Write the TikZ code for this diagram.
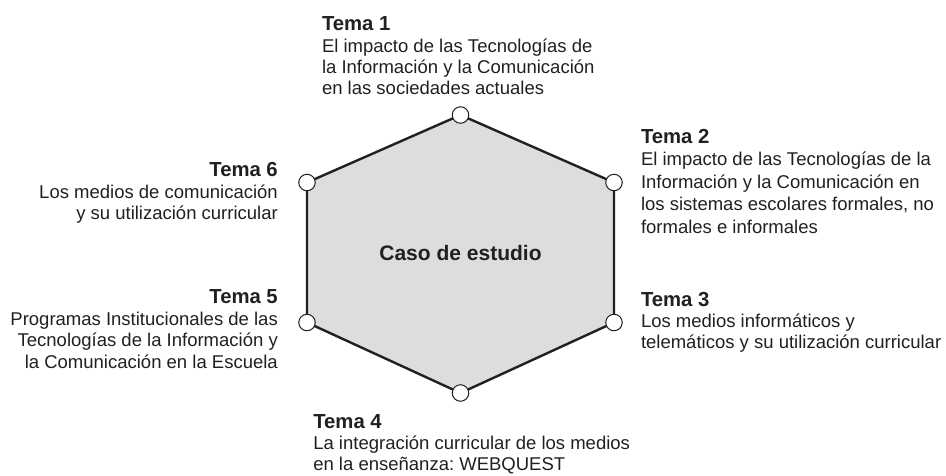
\documentclass[tikz,border=0pt]{standalone}
\usepackage{fontspec}
\setmainfont{Liberation Sans}
\frenchspacing
\definecolor{ink}{HTML}{231F20}
\definecolor{hexfill}{HTML}{DCDDDE}
\newcommand{\hd}[1]{{\fontsize{20.3}{21.7}\selectfont\bfseries #1}}
\newcommand{\Lline}[1]{\hbox{#1}}
\newcommand{\Rline}[1]{\hbox to 0pt{\hss #1}}
\tikzset{
  blk/.style={inner sep=0pt, outer sep=0pt, text=ink,
    font=\fontsize{18.5}{21.7}\selectfont\frenchspacing},
  lblk/.style={blk, anchor=base west},
  rblk/.style={blk, anchor=base east},
  vtx/.style={circle, draw=ink, fill=white, line width=1pt,
    minimum size=16.5pt, inner sep=0pt},
  hexline/.style={draw=ink, fill=hexfill, line width=2.4pt, line join=round},
  centertext/.style={inner sep=0pt, text=ink, anchor=base,
    font=\fontsize{21}{24}\selectfont\bfseries}
}
\begin{document}
\begin{tikzpicture}[x=1pt,y=-1pt]
\useasboundingbox (0,0) rectangle (946,475);
% hexagon vertices
\coordinate (p1) at (460.5,115);
\coordinate (p2) at (614,182.5);
\coordinate (p3) at (614,322.5);
\coordinate (p4) at (460.5,393);
\coordinate (p5) at (307,322.5);
\coordinate (p6) at (307,182.5);
\draw[hexline] (p1) -- (p2) -- (p3) -- (p4) -- (p5) -- (p6) -- cycle;
\foreach \i in {1,...,6} { \node[vtx] (v\i) at (p\i) {}; }
\node[centertext] (caso) at (460.5,260) {Caso de estudio};
% Tema 1
\node[lblk] (t1) at (322,30.7) {\vtop{\baselineskip=21.3pt
  \Lline{\hd{Tema 1}}
  \Lline{El impacto de las Tecnologías de}
  \Lline{la Información y la Comunicación}
  \Lline{en las sociedades actuales}}};
% Tema 2
\node[lblk] (t2) at (641,143.3) {\vtop{\baselineskip=22.5pt
  \Lline{\hd{Tema 2}}
  \Lline{El impacto de las Tecnologías de la}
  \Lline{Información y la Comunicación en}
  \Lline{los sistemas escolares formales, no}
  \Lline{formales e informales}}};
% Tema 3
\node[lblk] (t3) at (641,306.7) {\vtop{\baselineskip=21pt
  \Lline{\hd{Tema 3}}
  \Lline{Los medios informáticos y}
  \Lline{telemáticos y su utilización curricular}}};
% Tema 4
\node[lblk] (t4) at (313.3,428.3) {\vtop{\baselineskip=21.2pt
  \Lline{\hd{Tema 4}}
  \Lline{La integración curricular de los medios}
  \Lline{en la enseñanza: WEBQUEST}}};
% Tema 5
\node[rblk] (t5) at (278.3,303.3) {\vtop{\baselineskip=21.7pt
  \Rline{\hd{Tema 5}}
  \Rline{Programas Institucionales de las}
  \Rline{Tecnologías de la Información y}
  \Rline{la Comunicación en la Escuela}}};
% Tema 6
\node[rblk] (t6) at (278.3,176.7) {\vtop{\baselineskip=21.5pt
  \Rline{\hd{Tema 6}}
  \Rline{Los medios de comunicación}
  \Rline{y su utilización curricular}}};
\end{tikzpicture}
\end{document}
